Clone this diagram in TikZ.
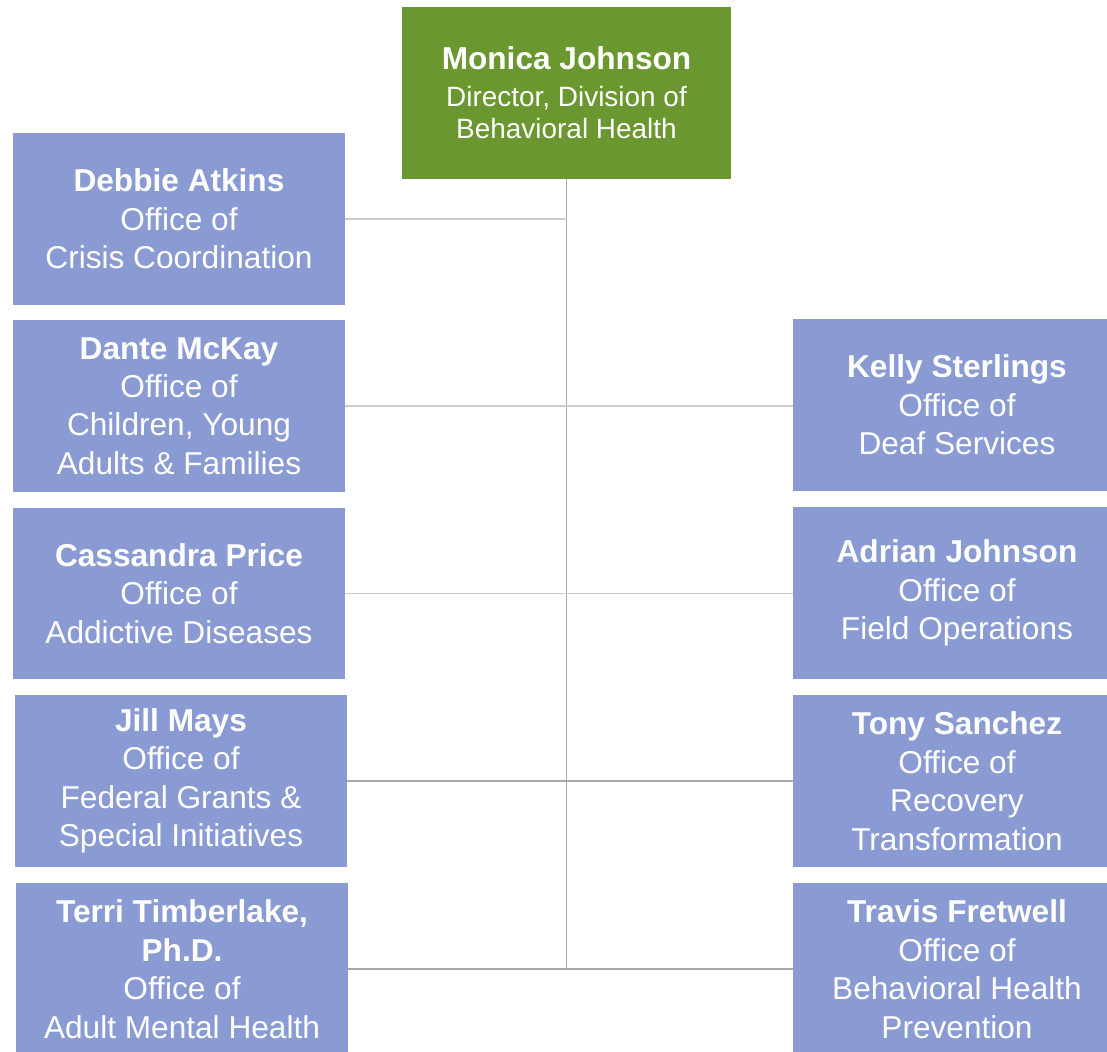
\documentclass[tikz,border=0pt]{standalone}
\usepackage{fontspec}
\setmainfont{Liberation Sans}
\usepackage{xcolor}
\definecolor{headgreen}{HTML}{6A972F}
\definecolor{officeblue}{HTML}{8A9BD4}
\definecolor{linelight}{HTML}{CCCCCC}
\definecolor{linedark}{HTML}{A8A8A8}

\begin{document}
\begin{tikzpicture}[x=0.02cm, y=-0.02cm,
    office/.style={fill=officeblue, text=white, inner sep=0pt, align=center,
                   minimum width=6.64cm, minimum height=3.44cm,
                   font=\fontsize{18}{21.9}\selectfont},
    rightoffice/.style={office, minimum width=6.56cm},
    head/.style={office, fill=headgreen, minimum width=6.58cm,
                 font=\fontsize{15.9}{18.1}\selectfont},
    linklight/.style={draw=linelight, line width=0.9pt},
    linkdark/.style={draw=linedark, line width=0.9pt}]
    \useasboundingbox (0,0) rectangle (1107,1052);

    \node[head]         (MJ)  at (566.5,  93)  {\fontsize{18}{21.5}\selectfont\bfseries Monica Johnson\\[3pt]
                                               Director, Division of\\ Behavioral Health};

    \node[office]       (DA)  at (179, 219)    {\textbf{Debbie Atkins}\\ Office of\\ Crisis Coordination};
    \node[office]       (DM)  at (179, 406)    {\textbf{Dante McKay}\\ Office of\\ Children, Young\\ Adults \& Families};
    \node[office]       (CP)  at (179, 593.5)  {\textbf{Cassandra Price}\\ Office of\\ Addictive Diseases};
    \node[office]       (JM)  at (181, 781)    {\textbf{Jill Mays}\\ Office of\\ Federal Grants \&\\ Special Initiatives};
    \node[office]       (TT)  at (182, 969)    {\textbf{Terri Timberlake,}\\ \textbf{Ph.D.}\\ Office of\\ Adult Mental Health};

    \node[rightoffice]  (KS)  at (957, 405)    {\textbf{Kelly Sterlings}\\ Office of\\ Deaf Services};
    \node[rightoffice]  (AJ)  at (957, 593)    {\textbf{Adrian Johnson}\\ Office of\\ Field Operations};
    \node[rightoffice]  (TS)  at (957, 781)    {\textbf{Tony Sanchez}\\ Office of\\ Recovery\\ Transformation};
    \node[rightoffice]  (TF)  at (957, 969)    {\textbf{Travis Fretwell}\\ Office of\\ Behavioral Health\\ Prevention};

    \draw[linkdark]  (MJ.south) -- (MJ.south |- TT.east);

    \draw[linklight] (DA.east) -- (DA.east -| MJ.south);
    \draw[linklight] (DM.east) -- (DM.east -| KS.west);
    \draw[linklight] (CP.east) -- (CP.east -| AJ.west);
    \draw[linkdark]  (JM.east) -- (JM.east -| TS.west);
    \draw[linkdark]  (TT.east) -- (TT.east -| TF.west);
\end{tikzpicture}
\end{document}
